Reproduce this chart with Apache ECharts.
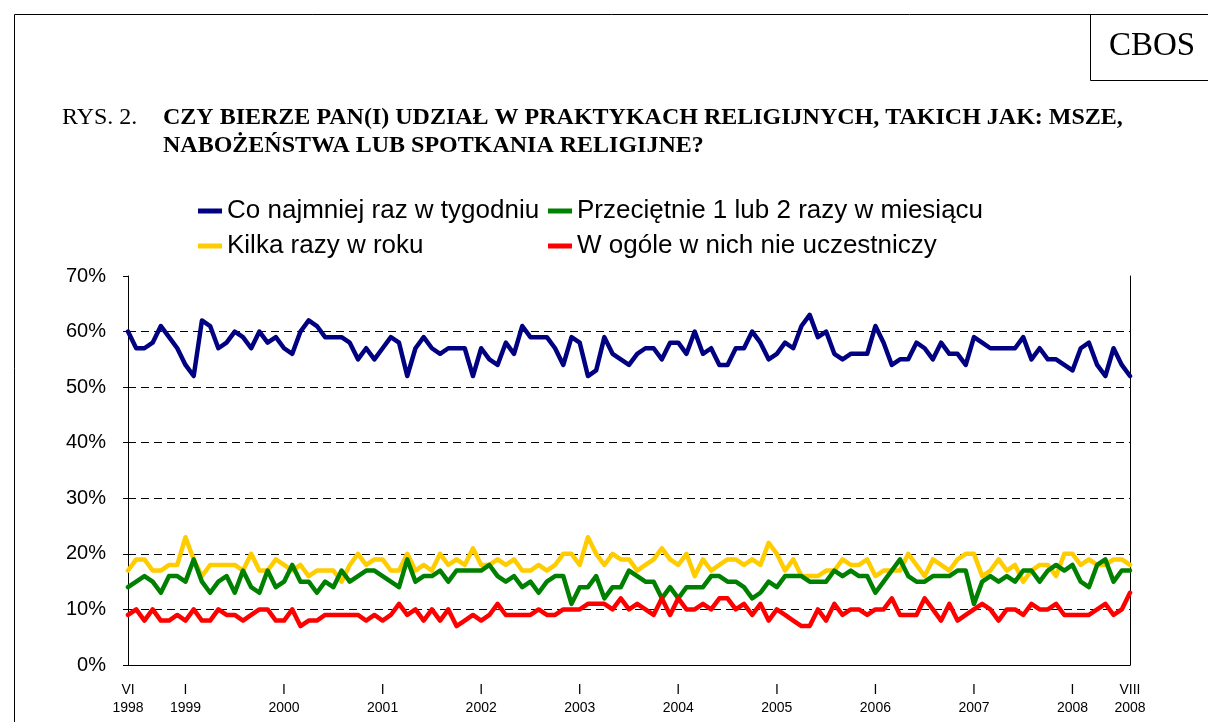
<!DOCTYPE html>
<html>
<head>
<meta charset="utf-8">
<title>CBOS - praktyki religijne</title>
<script src="https://cdn.jsdelivr.net/npm/echarts@6.0.0/dist/echarts.min.js"></script>
<style>html,body{margin:0;padding:0;background:#fff;}</style>
</head>
<body>
<div id="chart" style="width:1208px;height:722px;"></div>
<script type="text/javascript">
// miesiące od VI 1998 do VIII 2008
var startYear = 1998, startMonth = 6, monthCount = 123;
var roman = ['I','II','III','IV','V','VI','VII','VIII','IX','X','XI','XII'];

var yTicks = [0, 10, 20, 30, 40, 50, 60, 70];

var nameWeekly = 'Co najmniej raz w tygodniu';
var nameMonthly = 'Przeciętnie 1 lub 2 razy w miesiącu';
var nameYearly = 'Kilka razy w roku';
var nameNever = 'W ogóle w nich nie uczestniczy';

var weekly = [
  60,57,57,58,61,59,57,54,52,62, 61,57,58,60,59,57,60,58,59,57,
  56,60,62,61,59,59,59,58,55,57, 55,57,59,58,52,57,59,57,56,57,
  57,57,52,57,55,54,58,56,61,59, 59,59,57,54,59,58,52,53,59,56,
  55,54,56,57,57,55,58,58,56,60, 56,57,54,54,57,57,60,58,55,56,
  58,57,61,63,59,60,56,55,56,56, 56,61,58,54,55,55,58,57,55,58,
  56,56,54,59,58,57,57,57,57,59, 55,57,55,55,54,53,57,58,54,52,
  57,54,52
];
var monthly = [
  14,15,16,15,13,16,16,15,19,15, 13,15,16,13,17,14,13,17,14,15,
  18,15,15,13,15,14,17,15,16,17, 17,16,15,14,19,15,16,16,17,15,
  17,17,17,17,18,16,15,16,14,15, 13,15,16,16,11,14,14,16,12,14,
  14,17,16,15,15,12,14,12,14,14, 14,16,16,15,15,14,12,13,15,14,
  16,16,16,15,15,15,17,16,17,16, 16,13,15,17,19,16,15,15,16,16,
  16,17,17,11,15,16,15,16,15,17, 17,15,17,18,17,18,15,14,18,19,
  15,17,17
];
var yearly = [
  17,19,19,17,17,18,18,23,19,16, 18,18,18,18,17,20,17,17,19,18,
  17,18,16,17,17,17,15,18,20,18, 19,19,17,17,20,17,18,17,20,18,
  19,18,21,18,18,19,18,19,17,17, 18,17,18,20,20,18,23,20,18,20,
  19,19,17,18,19,21,19,18,20,16, 19,17,18,19,19,18,19,18,22,20,
  17,19,16,16,16,17,17,19,18,18, 19,16,17,17,17,20,18,16,19,18,
  17,19,20,20,16,17,19,17,18,15, 17,18,18,16,20,20,18,19,18,18,
  19,19,18
];
var never = [
  9,10,8,10,8,8,9,8,10,8, 8,10,9,9,8,9,10,10,8,8,
  10,7,8,8,9,9,9,9,9,8, 9,8,9,11,9,10,8,10,8,10,
  7,8,9,8,9,11,9,9,9,9, 10,9,9,10,10,10,11,11,11,10,
  12,10,11,10,9,12,9,12,10,10, 11,10,12,12,10,11,9,11,8,10,
  9,8,7,7,10,8,11,9,10,10, 9,10,10,12,9,9,9,12,10,8,
  11,8,9,10,11,10,8,10,10,9, 11,10,10,11,9,9,9,9,10,11,
  9,10,13
];

var months = [];
for (var i = 0; i < monthCount; i++) {
  var m = (startMonth - 1 + i) % 12 + 1;
  var y = startYear + Math.floor((startMonth - 1 + i) / 12);
  months.push(y + '-' + m);
}

function showLabel(index, value) {
  return index === 0 || index === monthCount - 1 || value.split('-')[1] === '1';
}

var sans = '"Liberation Sans", Arial, sans-serif';
var serif = '"Liberation Serif", "Times New Roman", serif';

// linie siatki: bez linii na 70%
var gridColors = yTicks.map(function (t, k) { return k === yTicks.length - 1 ? 'rgba(0,0,0,0)' : '#000'; });

var chart = echarts.init(document.getElementById('chart'));

function legendAt(name, left, top) {
  return {
    data: [name], left: left, top: top, padding: 0,
    icon: 'rect', itemWidth: 24, itemHeight: 5, itemGap: 5,
    textStyle: { fontFamily: sans, fontSize: 26, color: '#000', lineHeight: 26 }
  };
}

function lineSeries(name, data, color) {
  return {
    name: name, type: 'line', data: data, symbol: 'none',
    lineStyle: { color: color, width: 4.5, join: 'round', cap: 'round' },
    itemStyle: { color: color }
  };
}

var option = {
  animation: false,
  backgroundColor: '#fff',
  legend: [
    legendAt(nameWeekly, 198, 198),
    legendAt(nameMonthly, 548, 198),
    legendAt(nameYearly, 198, 233),
    legendAt(nameNever, 548, 233)
  ],
  grid: { left: 128, right: 78, top: 276, bottom: 57 },
  xAxis: {
    type: 'category', data: months, boundaryGap: false,
    axisLine: { lineStyle: { color: '#000', width: 1 } },
    axisTick: { show: false },
    axisLabel: {
      interval: showLabel,
      margin: 16,
      fontFamily: sans, fontSize: 14, lineHeight: 18, color: '#000',
      formatter: function (value) {
        var p = value.split('-');
        return roman[+p[1] - 1] + '\n' + p[0];
      }
    },
    splitLine: { show: false }
  },
  yAxis: [{
    type: 'value', min: yTicks[0], max: yTicks[yTicks.length - 1], interval: 10,
    axisLine: { show: true, lineStyle: { color: '#000', width: 1 } },
    axisTick: { show: true, length: 5, lineStyle: { color: '#000' } },
    axisLabel: { formatter: '{value}%', margin: 22, fontFamily: sans, fontSize: 20, color: '#000' },
    splitLine: { show: true, lineStyle: { color: gridColors, type: [8, 5], width: 1 } }
  }, {
    type: 'value', position: 'right', min: yTicks[0], max: yTicks[yTicks.length - 1], interval: 10,
    axisLine: { show: true, lineStyle: { color: '#000', width: 1 } },
    axisTick: { show: false }, axisLabel: { show: false }, splitLine: { show: false }
  }],
  series: [
    lineSeries(nameWeekly, weekly, '#000080'),
    lineSeries(nameYearly, yearly, '#FFCC00'),
    lineSeries(nameMonthly, monthly, '#008000'),
    lineSeries(nameNever, never, '#FF0000')
  ],
  graphic: [
    { type: 'line', shape: { x1: 14.5, y1: 14.5, x2: 1208, y2: 14.5 }, style: { stroke: '#000', lineWidth: 1 } },
    { type: 'line', shape: { x1: 14.5, y1: 14.5, x2: 14.5, y2: 722 }, style: { stroke: '#000', lineWidth: 1 } },
    { type: 'line', shape: { x1: 1090.5, y1: 14.5, x2: 1090.5, y2: 80.5 }, style: { stroke: '#000', lineWidth: 1 } },
    { type: 'line', shape: { x1: 1090.5, y1: 80.5, x2: 1208, y2: 80.5 }, style: { stroke: '#000', lineWidth: 1 } },
    { type: 'text', x: 1152, y: 46, style: { text: 'CBOS', font: '33px ' + serif, fill: '#000', align: 'center', verticalAlign: 'middle' } },
    { type: 'text', x: 62, y: 118, style: { text: 'RYS. 2.', font: '24px ' + serif, fill: '#000', verticalAlign: 'middle' } },
    { type: 'text', x: 163, y: 118, style: { text: 'CZY BIERZE PAN(I) UDZIAŁ W PRAKTYKACH RELIGIJNYCH, TAKICH JAK: MSZE,', font: 'bold 24px ' + serif, fill: '#000', verticalAlign: 'middle' } },
    { type: 'text', x: 163, y: 146, style: { text: 'NABOŻEŃSTWA LUB SPOTKANIA RELIGIJNE?', font: 'bold 24px ' + serif, fill: '#000', verticalAlign: 'middle' } }
  ]
};

chart.setOption(option);
</script>
</body>
</html>
